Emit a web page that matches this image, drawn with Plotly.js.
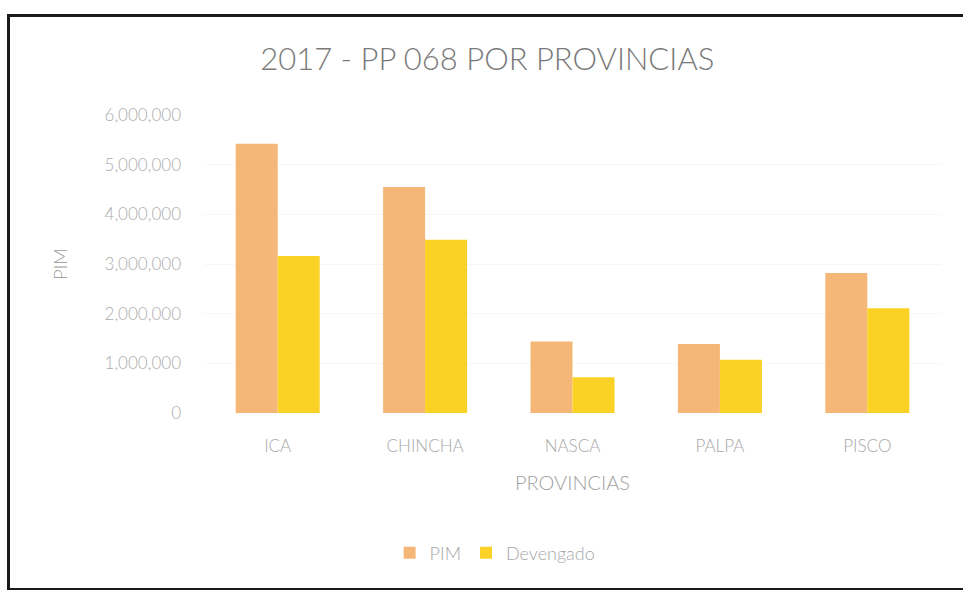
<!DOCTYPE html>
<html>
<head>
<meta charset="utf-8">
<script src="https://cdn.plot.ly/plotly-3.0.1.min.js"></script>
<style>
html,body{margin:0;padding:0;background:#fff;}
#chart{width:963px;height:590px;}
#frame{position:absolute;left:7px;top:14px;width:970px;height:571px;border:3px solid #1a1a1a;pointer-events:none;}
</style>
</head>
<body>
<div id="chart"></div>
<div id="frame"></div>
<script>
const provincias = ["ICA", "CHINCHA", "NASCA", "PALPA", "PISCO"];
const pim = [5420000, 4550000, 1440000, 1390000, 2820000];
const devengado = [3160000, 3490000, 720000, 1070000, 2110000];
const yTicks = [0, 1000000, 2000000, 3000000, 4000000, 5000000, 6000000];
const yTickText = ["0", "1,000,000", "2,000,000", "3,000,000", "4,000,000", "5,000,000", "6,000,000"];

const fontFam = "Lato, 'Open Sans', sans-serif";
const data = [
  {type: "bar", name: "PIM", x: provincias, y: pim, marker: {color: "#F5B778"}},
  {type: "bar", name: "Devengado", x: provincias, y: devengado, marker: {color: "#FAD225"}}
];
const layout = {
  width: 963, height: 590,
  margin: {l: 204, r: 22, t: 115, b: 177},
  paper_bgcolor: "#ffffff", plot_bgcolor: "#ffffff",
  barmode: "group", bargap: 0.43, bargroupgap: 0,
  title: {text: "2017 - PP 068 POR PROVINCIAS", x: 0.506, xanchor: "center", y: 0.9, yanchor: "middle",
          font: {family: fontFam, size: 31, weight: 300, color: "#7a7a7a"}},
  xaxis: {
    title: {text: "PROVINCIAS", font: {family: fontFam, size: 20, weight: 300, color: "#a0a0a0"}, standoff: 20},
    tickfont: {family: fontFam, size: 17, weight: 300, color: "#a8a8a8"},
    showline: false, ticks: "", showgrid: false, ticklabelstandoff: 21
  },
  yaxis: {
    title: {text: "PIM", font: {family: fontFam, size: 18, weight: 300, color: "#a0a0a0"}, standoff: 32},
    range: [0, 6000000], tickvals: yTicks, ticktext: yTickText,
    tickfont: {family: fontFam, size: 17, weight: 300, color: "#acacac"},
    showgrid: true, gridcolor: "#f7f7f7", zeroline: false, showline: false, ticks: "",
    ticklabelstandoff: 22
  },
  legend: {orientation: "h", x: 0.395, xanchor: "center", y: -0.47, yanchor: "middle",
           font: {family: fontFam, size: 18, weight: 300, color: "#a8a8a8"}, itemwidth: 30},
  showlegend: true
};
Plotly.newPlot("chart", data, layout, {displayModeBar: false, staticPlot: true});
</script>
</body>
</html>
